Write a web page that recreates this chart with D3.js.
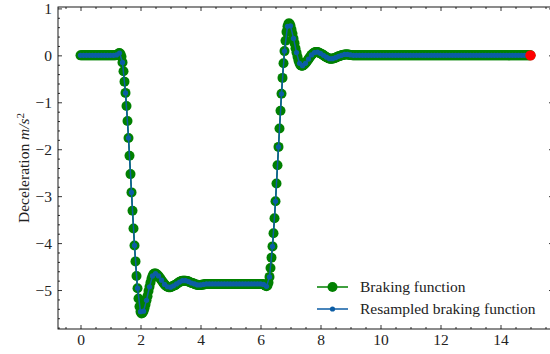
<!DOCTYPE html>
<html>
<head>
<meta charset="utf-8">
<script src="https://cdn.jsdelivr.net/npm/d3@7"></script>
<style>
  html, body { margin: 0; padding: 0; background: #fff; }
  svg { display: block; font-family: "Liberation Serif", "Times New Roman", serif; }
</style>
</head>
<body>
<svg id="chart" width="550" height="354"></svg>
<script>
// Braking function sampled at 30 Hz, resampled version at 10 Hz (m/s^2)
const brakingRate = 30;
const resampledRate = 10;

const brakingValues = [
  0,0,0,0,0,0,0,0,0,0,
  0,0,0,0,0,0,0,0,0,0,
  0,0,0,0,0,0,0,0,0,0,
  0,0,0,0,0,0,
  // braking onset
  0.01, 0.02, 0.04, 0.05, 0.03, -0.03, -0.15, -0.34, -0.56, -0.80,
  -1.08, -1.40, -1.76, -2.14, -2.53, -2.92, -3.31, -3.69, -4.05, -4.39,
  -4.70, -4.96, -5.18, -5.35, -5.46, -5.50, -5.49, -5.45, -5.39, -5.31,
  -5.22, -5.13, -5.02, -4.93, -4.84, -4.76, -4.70, -4.66, -4.65, -4.65,
  -4.66, -4.68, -4.70, -4.73, -4.76, -4.79, -4.82, -4.85, -4.88, -4.90,
  -4.92, -4.93, -4.94, -4.94, -4.94, -4.93, -4.92, -4.91, -4.90, -4.89,
  -4.87, -4.86, -4.84, -4.83, -4.82, -4.81, -4.80, -4.80, -4.80, -4.80,
  -4.81, -4.81, -4.82, -4.83, -4.84, -4.85, -4.85, -4.86, -4.87, -4.88,
  -4.88, -4.89, -4.89, -4.89, -4.89, -4.89, -4.88, -4.88, -4.88, -4.87,
  // steady braking
  -4.87, -4.87, -4.87, -4.87, -4.87, -4.87, -4.87, -4.87, -4.87, -4.87,
  -4.87, -4.87, -4.87, -4.87, -4.87, -4.87, -4.87, -4.87, -4.87, -4.87,
  -4.87, -4.87, -4.87, -4.87, -4.87, -4.87, -4.87, -4.87, -4.87, -4.87,
  -4.87, -4.87, -4.87, -4.87, -4.87, -4.87, -4.87, -4.87, -4.87, -4.87,
  -4.87, -4.87, -4.87, -4.87, -4.87, -4.87, -4.87, -4.87, -4.87, -4.87,
  -4.87, -4.87, -4.87, -4.87, -4.87, -4.87, -4.87,
  // release
  -4.88, -4.89, -4.91, -4.92, -4.90, -4.84, -4.72, -4.53, -4.31, -4.07,
  -3.79, -3.47, -3.11, -2.73, -2.34, -1.95, -1.56, -1.18, -0.82, -0.48,
  -0.17, 0.09, 0.31, 0.50, 0.62, 0.68, 0.68, 0.63, 0.55, 0.46,
  0.36, 0.26, 0.15, 0.06, -0.03, -0.11, -0.17, -0.21, -0.22, -0.22,
  -0.21, -0.19, -0.17, -0.14, -0.11, -0.08, -0.05, -0.02, 0.01, 0.03,
  0.05, 0.06, 0.07, 0.07, 0.07, 0.06, 0.05, 0.04, 0.03, 0.02,
  0.00, -0.01, -0.03, -0.04, -0.05, -0.06, -0.07, -0.07, -0.07, -0.07,
  -0.06, -0.06, -0.05, -0.04, -0.03, -0.02, -0.02, -0.01, 0.00, 0.01,
  0.01, 0.02, 0.02, 0.02, 0.02, 0.02, 0.01, 0.01, 0.01, 0.00,
  // coasting
  0,0,0,0,0,0,0,0,0,0,
  0,0,0,0,0,0,0,0,0,0,
  0,0,0,0,0,0,0,0,0,0,
  0,0,0,0,0,0,0,0,0,0,
  0,0,0,0,0,0,0,0,0,0,
  0,0,0,0,0,0,0,0,0,0,
  0,0,0,0,0,0,0,0,0,0,
  0,0,0,0,0,0,0,0,0,0,
  0,0,0,0,0,0,0,0,0,0,
  0,0,0,0,0,0,0,0,0,0,
  0,0,0,0,0,0,0,0,0,0,
  0,0,0,0,0,0,0,0,0,0,
  0,0,0,0,0,0,0,0,0,0,
  0,0,0,0,0,0,0,0,0,0,
  0,0,0,0,0,0,0,0,0,0,
  0,0,0,0,0,0,0,0,0,0,
  0,0,0,0,0,0,0,0,0,0,
  0,0,0,0,0,0,0,0
];

const resampledValues = [
  0,0,0,0,0,0,0,0,0,0,
  0,0,
  0.01, 0.05, -0.15, -0.80, -1.76, -2.92, -4.05, -4.96, -5.46, -5.45,
  -5.22, -4.93, -4.70, -4.65, -4.70, -4.79, -4.88, -4.93, -4.94, -4.91,
  -4.87, -4.83, -4.80, -4.80, -4.82, -4.85, -4.87, -4.89, -4.89, -4.88,
  -4.87, -4.87, -4.87, -4.87, -4.87, -4.87, -4.87, -4.87, -4.87, -4.87,
  -4.87, -4.87, -4.87, -4.87, -4.87, -4.87, -4.87, -4.87, -4.87,
  -4.88, -4.92, -4.72, -4.07, -3.11, -1.95, -0.82, 0.09, 0.62, 0.63,
  0.36, 0.06, -0.17, -0.22, -0.17, -0.08, 0.01, 0.06, 0.07, 0.04,
  0.00, -0.04, -0.07, -0.07, -0.05, -0.02, 0.00, 0.02, 0.02, 0.01,
  0,0,0,0,0,0,0,0,0,0,
  0,0,0,0,0,0,0,0,0,0,
  0,0,0,0,0,0,0,0,0,0,
  0,0,0,0,0,0,0,0,0,0,
  0,0,0,0,0,0,0,0,0,0,
  0,0,0,0,0,0,0,0,0,0
];

const xTickValues = [0, 2, 4, 6, 8, 10, 12, 14];
const yTickValues = [-5, -4, -3, -2, -1, 0, 1];
const seriesNames = ["Braking function", "Resampled braking function"];

const braking = brakingValues.map((v, i) => ({ t: i / brakingRate, v }));
const resampled = resampledValues.map((v, i) => ({ t: i / resampledRate, v }));

const svg = d3.select("#chart");
const plot = { left: 58, right: 553, top: 7, bottom: 329 };

const x = d3.scaleLinear().domain([-0.75, 15.75]).range([plot.left, plot.right]);
const y = d3.scaleLinear().domain([-5.83, 1.03]).range([plot.bottom, plot.top]);

const green = "#008000", blue = "#0C5DA5", red = "#ff0000";
const fmt = d => (d < 0 ? "\u2212" + Math.abs(d) : String(d));

// minor tick positions
const xMinor = d3.range(-0.5, 15.51, 0.5).filter(v => Math.abs(v % 2) > 1e-9);
const yMinor = d3.range(-5.8, 1.001, 0.2).map(v => +v.toFixed(1)).filter(v => Math.abs(v - Math.round(v)) > 1e-9);

function styleAxis(g) {
  g.select(".domain").remove();
  g.selectAll(".tick line").attr("stroke", "#000").attr("stroke-width", 0.8);
  g.selectAll("text").attr("fill", "#222").style("font-size", "15.5px")
    .style("font-family", '"Liberation Serif", serif');
}

// bottom
svg.append("g").attr("transform", `translate(0,${plot.bottom})`)
  .call(d3.axisBottom(x).tickValues(xTickValues).tickFormat(fmt).tickSizeInner(-4).tickSizeOuter(0).tickPadding(5))
  .call(styleAxis);
svg.append("g").attr("transform", `translate(0,${plot.bottom})`)
  .call(d3.axisBottom(x).tickValues(xMinor).tickFormat("").tickSizeInner(-2).tickSizeOuter(0))
  .call(styleAxis);
// top
svg.append("g").attr("transform", `translate(0,${plot.top})`)
  .call(d3.axisTop(x).tickValues(xTickValues).tickFormat("").tickSizeInner(-4).tickSizeOuter(0))
  .call(styleAxis);
svg.append("g").attr("transform", `translate(0,${plot.top})`)
  .call(d3.axisTop(x).tickValues(xMinor).tickFormat("").tickSizeInner(-2).tickSizeOuter(0))
  .call(styleAxis);
// left
svg.append("g").attr("transform", `translate(${plot.left},0)`)
  .call(d3.axisLeft(y).tickValues(yTickValues).tickFormat(fmt).tickSizeInner(-4).tickSizeOuter(0).tickPadding(6))
  .call(styleAxis);
svg.append("g").attr("transform", `translate(${plot.left},0)`)
  .call(d3.axisLeft(y).tickValues(yMinor).tickFormat("").tickSizeInner(-2).tickSizeOuter(0))
  .call(styleAxis);
// right
svg.append("g").attr("transform", `translate(${plot.right},0)`)
  .call(d3.axisRight(y).tickValues(yTickValues).tickFormat("").tickSizeInner(-4).tickSizeOuter(0))
  .call(styleAxis);
svg.append("g").attr("transform", `translate(${plot.right},0)`)
  .call(d3.axisRight(y).tickValues(yMinor).tickFormat("").tickSizeInner(-2).tickSizeOuter(0))
  .call(styleAxis);

// frame
svg.append("rect")
  .attr("x", plot.left).attr("y", plot.top)
  .attr("width", plot.right - plot.left).attr("height", plot.bottom - plot.top)
  .attr("fill", "none").attr("stroke", "#000").attr("stroke-width", 0.9);

// y label
const yl = svg.append("text")
  .attr("transform", `translate(28.5,${(plot.top + plot.bottom) / 2}) rotate(-90)`)
  .attr("text-anchor", "middle")
  .attr("fill", "#222")
  .style("font-size", "15.5px");
yl.append("tspan").text("Deceleration ");
yl.append("tspan").style("font-style", "italic").text("m/s");
yl.append("tspan").attr("dy", "-0.45em").style("font-size", "11px").text("2");

const line = d3.line().x(d => x(d.t)).y(d => y(d.v));

// braking function
svg.append("path").datum(braking)
  .attr("d", line).attr("fill", "none").attr("stroke", green).attr("stroke-width", 1.5);
svg.append("g").selectAll("circle").data(braking).join("circle")
  .attr("cx", d => x(d.t)).attr("cy", d => y(d.v)).attr("r", 5).attr("fill", green);

// resampled braking function
svg.append("path").datum(resampled)
  .attr("d", line).attr("fill", "none").attr("stroke", blue).attr("stroke-width", 1.5);
svg.append("g").selectAll("circle").data(resampled).join("circle")
  .attr("cx", d => x(d.t)).attr("cy", d => y(d.v)).attr("r", 2.6).attr("fill", blue);

// end of the braking profile
const last = braking[braking.length - 1];
svg.append("circle").attr("cx", x(last.t)).attr("cy", y(last.v)).attr("r", 5.2).attr("fill", red);

// legend
const legend = svg.append("g").attr("transform", "translate(317,287)");
const entries = [
  { name: seriesNames[0], color: green, r: 5 },
  { name: seriesNames[1], color: blue, r: 2.6 }
];
entries.forEach((e, i) => {
  const row = legend.append("g").attr("transform", `translate(0,${i * 22})`);
  row.append("line").attr("x1", 0).attr("x2", 31).attr("y1", 0).attr("y2", 0)
    .attr("stroke", e.color).attr("stroke-width", 1.5);
  row.append("circle").attr("cx", 15.5).attr("cy", 0).attr("r", e.r).attr("fill", e.color);
  row.append("text").attr("x", 43).attr("y", 0).attr("dy", "0.33em")
    .attr("fill", "#222").style("font-size", "15.5px").text(e.name);
});
</script>
</body>
</html>
